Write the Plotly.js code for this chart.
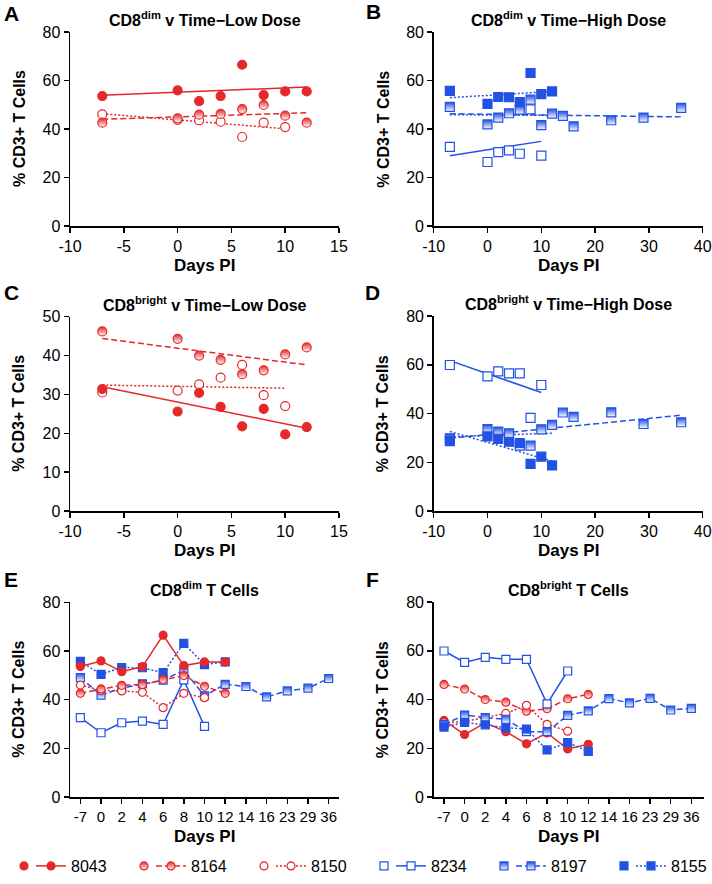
<!DOCTYPE html>
<html>
<head>
<meta charset="utf-8">
<script src="https://cdn.plot.ly/plotly-3.0.1.min.js"></script>
<style>
body { margin: 0; background: #fff; }
#chart { width: 712px; height: 884px; }
</style>
</head>
<body>
<div id="chart"></div>
<script>
var red = "#e5282b";
var blue = "#2251e4";
var font = "Liberation Sans, Arial, sans-serif";

// days post infection for each animal
var daysAll = [-7, 0, 2, 4, 6, 8, 10, 12, 14, 16, 23, 29, 36];
var days8043 = [-7, 0, 2, 4, 6, 8, 10, 12];
var days8164 = [-7, 0, 2, 4, 6, 8, 10, 12];
var days8150 = [-7, 0, 2, 4, 6, 8, 10];
var days8234 = [-7, 0, 2, 4, 6, 8, 10];
var days8197 = [-7, 0, 2, 4, 6, 8, 10, 12, 14, 16, 23, 29, 36];
var days8155 = [-7, 0, 2, 4, 6, 8, 10, 12];

// % CD3+ T cells that are CD8dim
var dim8043 = [53.6, 55.9, 51.5, 53.6, 66.5, 54.0, 55.5, 55.5];
var dim8164 = [42.6, 44.4, 45.9, 46.2, 48.2, 49.9, 45.5, 42.6];
var dim8150 = [46.0, 43.8, 43.6, 43.0, 36.7, 42.6, 40.8];
var dim8234 = [32.6, 26.4, 30.5, 31.2, 29.8, 48.1, 29.0];
var dim8197 = [49.1, 41.9, 44.7, 46.5, 48.0, 52.1, 41.6, 46.3, 45.4, 41.1, 43.6, 44.7, 48.7];
var dim8155 = [55.7, 50.4, 53.2, 53.1, 51.1, 63.1, 54.4, 55.5];

// % CD3+ T cells that are CD8bright
var br8043 = [31.4, 25.6, 30.4, 26.8, 21.8, 26.3, 19.7, 21.6];
var br8164 = [46.2, 44.3, 40.0, 38.9, 35.2, 36.2, 40.3, 42.1];
var br8150 = [30.5, 31.0, 32.6, 34.3, 37.6, 29.8, 27.0];
var br8234 = [59.9, 55.2, 57.3, 56.5, 56.5, 38.2, 51.7];
var br8197 = [29.8, 33.6, 32.6, 31.9, 26.8, 26.8, 33.5, 35.3, 40.4, 38.6, 40.5, 35.7, 36.4];
var br8155 = [28.7, 30.6, 29.6, 28.4, 27.9, 19.3, 22.3, 18.7];

var fitDays8043 = [-7, 12], fitDays8164 = [-7, 12], fitDays8150 = [-7, 10];
var fitDays8234 = [-7, 10], fitDays8197 = [-7, 36], fitDays8197early = [-7, 12], fitDays8155 = [-7, 12];
var fitDim8043 = [53.9, 57.3];
var fitDim8164 = [44.0, 46.7];
var fitDim8150 = [46.3, 40.1];
var fitDim8234 = [29.0, 34.9];
var fitDim8197 = [46.3, 45.0];
var fitDim8197early = [45.9, 45.6];
var fitDim8155 = [52.9, 55.5];
var fitBr8043 = [32.0, 21.3];
var fitBr8164 = [44.4, 37.6];
var fitBr8150 = [32.4, 31.6];
var fitBr8234 = [61.7, 48.6];
var fitBr8197 = [29.8, 39.3];
var fitBr8197early = [30.5, 31.9];
var fitBr8155 = [32.6, 20.5];

var xTicksLow = [-10, -5, 0, 5, 10, 15];
var xTicksHigh = [-10, 0, 10, 20, 30, 40];
var dayLabels = daysAll.map(String);

var styles = {
  "8043": {color: red, symbol: "circle", fill: "full", dash: "solid"},
  "8164": {color: red, symbol: "circle", fill: "half", dash: "6px,3px"},
  "8150": {color: red, symbol: "circle", fill: "open", dash: "2px,2px"},
  "8234": {color: blue, symbol: "square", fill: "open", dash: "solid"},
  "8197": {color: blue, symbol: "square", fill: "half", dash: "6px,3px"},
  "8155": {color: blue, symbol: "square", fill: "full", dash: "2px,2px"}
};

function marker(id, size) {
  var s = styles[id];
  var m = {symbol: s.symbol, size: size, color: s.fill === "open" ? "white" : s.color,
           line: {color: s.color, width: 1.2}};
  if (s.fill === "half") m.gradient = {type: "vertical", color: "white"};
  return m;
}

function fitLine(ax, id, x, y, dash) {
  return {x: x, y: y, xaxis: "x" + ax, yaxis: "y" + ax, mode: "lines", showlegend: false,
          hoverinfo: "skip", line: {color: styles[id].color, width: 1.5, dash: dash || styles[id].dash}};
}
function points(ax, id, x, y) {
  return {x: x, y: y, xaxis: "x" + ax, yaxis: "y" + ax, mode: "markers", showlegend: false,
          name: id, marker: marker(id, 9)};
}
function course(ax, id, x, y, legend) {
  var t = {x: x.map(String), y: y, xaxis: "x" + ax, yaxis: "y" + ax, mode: "lines+markers",
           name: id, showlegend: !!legend, legend: "legend2",
           line: {color: styles[id].color, width: 1.5, dash: styles[id].dash}, marker: marker(id, 8)};
  if (legend) t.legendwidth = legend;
  return t;
}
function dummy(id, w) {
  return {x: [null], y: [null], xaxis: "x", yaxis: "y", mode: "markers", name: "", legend: "legend",
          showlegend: true, legendwidth: w, marker: marker(id, 8)};
}

var data = [
  // A: CD8dim low dose
  fitLine("", "8043", fitDays8043, fitDim8043),
  fitLine("", "8164", fitDays8164, fitDim8164),
  fitLine("", "8150", fitDays8150, fitDim8150),
  points("", "8150", days8150, dim8150),
  points("", "8164", days8164, dim8164),
  points("", "8043", days8043, dim8043),
  // B: CD8dim high dose
  fitLine("2", "8234", fitDays8234, fitDim8234),
  fitLine("2", "8197", fitDays8197, fitDim8197),
  fitLine("2", "8197", fitDays8197early, fitDim8197early, "2px,2px"),
  fitLine("2", "8155", fitDays8155, fitDim8155),
  points("2", "8234", days8234, dim8234),
  points("2", "8197", days8197, dim8197),
  points("2", "8155", days8155, dim8155),
  // C: CD8bright low dose
  fitLine("3", "8043", fitDays8043, fitBr8043),
  fitLine("3", "8164", fitDays8164, fitBr8164),
  fitLine("3", "8150", fitDays8150, fitBr8150),
  points("3", "8150", days8150, br8150),
  points("3", "8164", days8164, br8164),
  points("3", "8043", days8043, br8043),
  // D: CD8bright high dose
  fitLine("4", "8234", fitDays8234, fitBr8234),
  fitLine("4", "8197", fitDays8197, fitBr8197),
  fitLine("4", "8197", fitDays8197early, fitBr8197early, "2px,2px"),
  fitLine("4", "8155", fitDays8155, fitBr8155),
  points("4", "8234", days8234, br8234),
  points("4", "8197", days8197, br8197),
  points("4", "8155", days8155, br8155),
  // E: CD8dim over time
  course("5", "8234", days8234, dim8234),
  course("5", "8197", days8197, dim8197),
  course("5", "8155", days8155, dim8155),
  course("5", "8150", days8150, dim8150),
  course("5", "8164", days8164, dim8164),
  course("5", "8043", days8043, dim8043),
  // F: CD8bright over time (also feeds the legend)
  course("6", "8043", days8043, br8043, 75),
  course("6", "8164", days8164, br8164, 75),
  course("6", "8150", days8150, br8150, 75),
  course("6", "8234", days8234, br8234, 75),
  course("6", "8197", days8197, br8197, 75),
  course("6", "8155", days8155, br8155, 36),
  dummy("8043", 75), dummy("8164", 75), dummy("8150", 75),
  dummy("8234", 75), dummy("8197", 75), dummy("8155", 20)
];

var W = 712, H = 884;
// plot areas in pixels: [left, right, top, bottom]
var boxes = [
  [70, 339, 32, 226], [433.7, 702.7, 32, 226],
  [70, 339, 316.7, 511], [433.7, 702.7, 316, 511],
  [70, 339, 602.3, 797], [433.7, 703.7, 602, 797]
];
function px(x) { return x / W; }
function py(y) { return 1 - y / H; }

function axisBase(size) {
  return {showgrid: false, zeroline: false, showline: true, linecolor: "black", linewidth: 1.5,
          ticks: "outside", ticklen: 5, tickwidth: 1.5, tickcolor: "black", fixedrange: true,
          tickfont: {family: font, size: size, color: "black"}};
}

var layout = {
  width: W, height: H, margin: {l: 0, r: 0, t: 0, b: 0},
  paper_bgcolor: "white", plot_bgcolor: "white",
  font: {family: font, color: "black"},
  annotations: [],
  legend: {orientation: "h", x: px(4), y: py(866), xanchor: "left", yanchor: "middle",
           font: {family: font, size: 16, color: "black"}, bgcolor: "rgba(0,0,0,0)"},
  legend2: {orientation: "h", x: px(34), y: py(866), xanchor: "left", yanchor: "middle",
            font: {family: font, size: 16, color: "black"}, bgcolor: "rgba(0,0,0,0)"}
};

var titles = [
  "CD8<sup>dim</sup> v Time\u2212Low Dose", "CD8<sup>dim</sup> v Time\u2212High Dose",
  "CD8<sup>bright</sup> v Time\u2212Low Dose", "CD8<sup>bright</sup> v Time\u2212High Dose",
  "CD8<sup>dim</sup> T Cells", "CD8<sup>bright</sup> T Cells"
];
var letters = ["A", "B", "C", "D", "E", "F"];
var letterPos = [[11, 14], [373, 12], [11, 293], [372, 293], [11, 579], [372, 579]];

boxes.forEach(function (b, i) {
  var n = i === 0 ? "" : String(i + 1);
  var xa = axisBase(i < 4 ? 16 : 15), ya = axisBase(16);
  xa.domain = [px(b[0]), px(b[1])];
  xa.anchor = "y" + n;
  ya.domain = [py(b[3]), py(b[2])];
  ya.anchor = "x" + n;
  if (i < 4) {
    var tv = (i % 2 === 0) ? xTicksLow : xTicksHigh;
    xa.range = [tv[0], tv[tv.length - 1]];
    xa.tickvals = tv;
    xa.ticktext = tv.map(String);
  } else {
    xa.type = "category";
    xa.categoryorder = "array";
    xa.categoryarray = dayLabels;
    xa.range = [-0.5, i === 4 ? 12.5 : 12.6];
  }
  var ymax = i === 2 ? 50 : 80;
  ya.range = [0, ymax];
  ya.tickvals = i === 2 ? [0, 10, 20, 30, 40, 50] : [0, 20, 40, 60, 80];
  layout["xaxis" + n] = xa;
  layout["yaxis" + n] = ya;

  var cx = (b[0] + b[1]) / 2;
  layout.annotations.push(
    {text: "<b>" + titles[i] + "</b>", x: px(cx), y: py(b[2] - 13), xref: "paper", yref: "paper",
     showarrow: false, xanchor: "center", yanchor: "middle", font: {family: font, size: 16}},
    {text: "<b>Days PI</b>", x: px(cx), y: py(b[3] + 39), xref: "paper", yref: "paper",
     showarrow: false, xanchor: "center", yanchor: "middle", font: {family: font, size: 17}},
    {text: "<b>% CD3+ T Cells</b>", x: px(b[0] - 51), y: py((b[2] + b[3]) / 2), xref: "paper", yref: "paper",
     showarrow: false, textangle: -90, xanchor: "center", yanchor: "middle", font: {family: font, size: 16}},
    {text: "<b>" + letters[i] + "</b>", x: px(letterPos[i][0]), y: py(letterPos[i][1]), xref: "paper", yref: "paper",
     showarrow: false, xanchor: "center", yanchor: "middle", font: {family: font, size: 21}}
  );
});

Plotly.newPlot("chart", data, layout, {displayModeBar: false, staticPlot: true});
</script>
</body>
</html>
